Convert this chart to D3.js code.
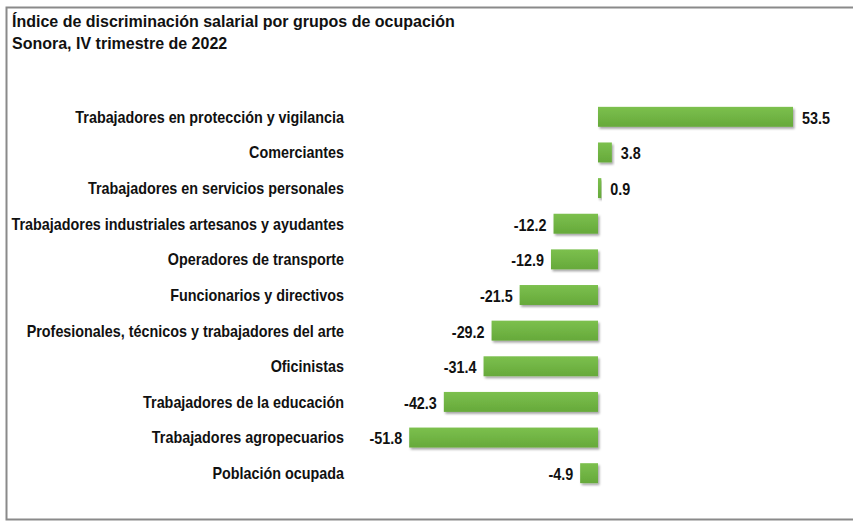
<!DOCTYPE html>
<html><head><meta charset="utf-8">
<script src="https://cdn.jsdelivr.net/npm/d3@7"></script>
<style>
html,body{margin:0;padding:0;background:#fff;}
svg{display:block;}
text{font-family:"Liberation Sans Narrow","Arial Narrow","Liberation Sans",Arial,sans-serif;font-weight:bold;fill:#111;}
</style></head>
<body><div id="chart"></div>
<script>
const titleLines = ["Índice de discriminación salarial por grupos de ocupación", "Sonora, IV trimestre de 2022"];
const categories = [
  "Trabajadores en protección y vigilancia",
  "Comerciantes",
  "Trabajadores en servicios personales",
  "Trabajadores industriales artesanos y ayudantes",
  "Operadores de transporte",
  "Funcionarios y directivos",
  "Profesionales, técnicos y trabajadores del arte",
  "Oficinistas",
  "Trabajadores de la educación",
  "Trabajadores agropecuarios",
  "Población ocupada"
];
const values = [53.5, 3.8, 0.9, -12.2, -12.9, -21.5, -29.2, -31.4, -42.3, -51.8, -4.9];

const W = 853, H = 521;
const svg = d3.select("#chart").append("svg").attr("width", W).attr("height", H);

const defs = svg.append("defs");
const grad = defs.append("linearGradient").attr("id","g").attr("x1",0).attr("y1",0).attr("x2",0).attr("y2",1);
grad.append("stop").attr("offset","0%").attr("stop-color","#7cc04e");
grad.append("stop").attr("offset","100%").attr("stop-color","#66a93a");
const f = defs.append("filter").attr("id","sh").attr("x","-10%").attr("y","-30%").attr("width","130%").attr("height","180%");
f.append("feDropShadow").attr("dx",1.5).attr("dy",2).attr("stdDeviation",1.2).attr("flood-color","#000").attr("flood-opacity",0.35);

// frame
svg.append("path").attr("d", `M${W+2},7.5 H6.5 V519.5 H${W+2}`).attr("fill","none").attr("stroke","#8a8a8a").attr("stroke-width",2);

svg.selectAll("text.title").data(titleLines).join("text").attr("class","title")
  .attr("x", 12).attr("y", (d,i)=>27 + i*22).style("font-size","16px").text(d=>d);

const x = d3.scaleLinear().domain([0, 53.5]).range([598, 793]);
const y = d3.scaleBand().domain(categories).range([99, 491]).paddingInner(0.44).paddingOuter(0.22);
const narrow = 0.87;

const g = svg.append("g");
g.selectAll("rect").data(values).join("rect")
  .attr("x", d => x(Math.min(0,d)))
  .attr("width", d => Math.abs(x(d)-x(0)))
  .attr("y", (d,i) => y(categories[i]))
  .attr("height", y.bandwidth())
  .attr("fill","url(#g)").attr("filter","url(#sh)");

g.selectAll("text.cat").data(categories).join("text").attr("class","cat")
  .attr("transform", d => `translate(344,${y(d) + y.bandwidth()/2}) scale(${narrow},1)`)
  .attr("dy","0.36em")
  .attr("text-anchor","end").style("font-size","16.5px").text(d=>d);

g.selectAll("text.val").data(values).join("text").attr("class","val")
  .attr("transform", (d,i) => `translate(${d >= 0 ? x(d) + 9 : x(d) - 7},${y(categories[i]) + y.bandwidth()/2 + 1}) scale(${narrow},1)`)
  .attr("dy","0.36em")
  .attr("text-anchor", d => d >= 0 ? "start" : "end")
  .style("font-size","16.5px").text(d => d.toFixed(1));
</script></body></html>
